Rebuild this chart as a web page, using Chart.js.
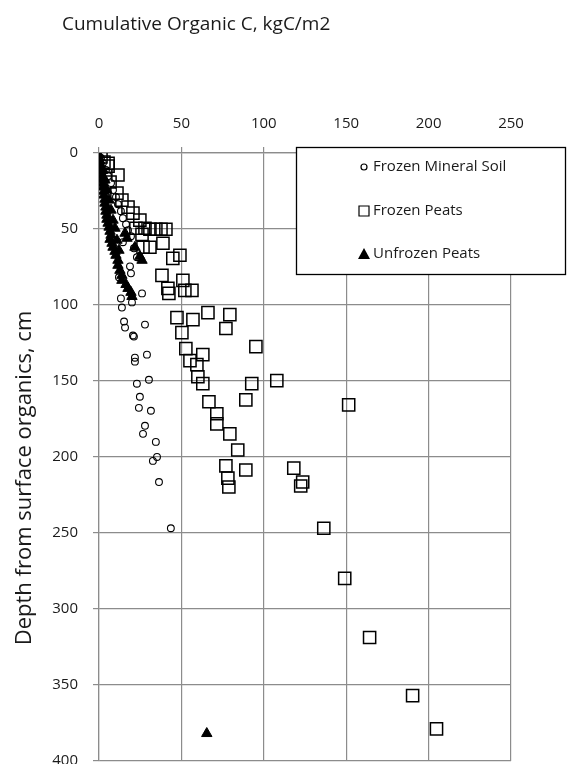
<!DOCTYPE html>
<html>
<head>
<meta charset="utf-8">
<script src="https://cdn.jsdelivr.net/npm/chart.js@4.4.0/dist/chart.umd.min.js"></script>
<style>
html, body { margin: 0; padding: 0; background: #fff; overflow: hidden; }
/* a bit taller than the window so the 400 label is cut at the bottom edge, as in the picture */
#wrap { width: 569px; height: 771px; }
</style>
</head>
<body>
<div id="wrap"><canvas id="myChart"></canvas></div>
<script>
// values: cumulative organic C (kgC/m2) vs depth (cm)
const mineralC = [1.2, 2.4, 4.2, 5.5, 7.3, 8.5, 10.3, 11.5, 13.3, 14.5, 16.4, 17.6, 19.4, 14.5, 21.2, 23.0,
    18.8, 19.4, 12.1, 26.1, 13.3, 20.0, 13.9, 15.2, 15.8, 27.9, 20.6, 21.2, 29.1, 21.8, 21.8,
    30.3, 23.0, 24.8, 24.2, 31.5, 27.9, 26.7, 34.5, 35.2, 32.7, 36.4, 43.6];
const mineralDepth = [3.3, 6.6, 11.2, 15.2, 19.8, 24.4, 29.0, 33.7, 38.3, 42.9, 46.9, 50.8, 54.8, 58.7, 62.7, 68.6,
    74.6, 79.2, 81.8, 92.4, 95.7, 98.3, 101.7, 110.9, 114.9, 112.9, 120.1, 120.8, 132.7, 134.7, 137.3,
    149.2, 151.8, 160.4, 167.7, 169.6, 179.5, 184.8, 190.1, 200.0, 202.6, 216.5, 246.9];

const frozenPeatC = [1.2, 3.0, 5.5, 5.5, 11.5, 6.7, 10.9, 13.9, 17.6, 20.6, 24.8, 22.4, 27.9, 30.9, 34.5, 37.6, 40.6,
    26.1, 38.8, 30.9, 26.7, 49.1, 44.8, 38.2, 41.8, 42.4, 50.9, 52.1, 56.4, 47.3, 57.0, 66.1, 79.4, 77.0,
    50.3, 95.2, 52.7, 63.0, 55.2, 59.4, 60.0, 63.0, 107.9, 92.7, 66.7, 89.1, 71.5, 71.5, 79.4, 84.2,
    77.0, 89.1, 78.2, 78.8, 118.2, 123.6, 122.4, 151.5, 136.4, 149.1, 164.2, 190.3, 204.8];
const frozenPeatDepth = [2.6, 6.0, 8.6, 6.8, 14.5, 19.1, 26.4, 31.0, 35.6, 39.6, 44.2, 49.5, 49.5, 50.2, 50.2, 50.2, 50.2,
    53.5, 59.4, 62.0, 62.0, 67.3, 69.3, 80.5, 89.1, 92.4, 83.8, 90.4, 90.4, 108.3, 109.6, 105.0, 106.3, 115.5,
    118.2, 127.4, 128.7, 132.7, 136.6, 139.3, 147.2, 151.8, 149.8, 151.8, 163.7, 162.4, 171.6, 178.2, 184.8, 195.4,
    205.9, 208.6, 213.9, 219.8, 207.3, 216.5, 219.1, 165.7, 246.9, 279.9, 318.8, 357.1, 378.9];

const unfrozenPeatC = [0, 0, 0.6, 0.6, 1.2, 1.2, 1.8, 1.8, 2.4, 2.4, 3.0, 3.0, 3.6, 3.6, 4.2, 4.2, 4.8, 4.8, 5.5,
    6.1, 6.7, 7.3, 6.7, 7.9, 8.5, 9.7, 10.3, 11.5, 11.5, 12.7, 13.9, 13.9, 16.4, 17.6, 19.4, 20.0,
    2.4, 3.6, 4.8, 6.1, 7.3, 8.5, 9.7, 10.9, 12.1, 15.8, 17.0, 21.8, 24.8, 26.1, 65.4];
const unfrozenPeatDepth = [1.3, 3.3, 5.3, 7.3, 9.2, 11.9, 14.5, 17.2, 19.8, 22.4, 25.1, 27.7, 30.4, 33.0, 35.6, 38.3, 40.9, 43.6, 46.2,
    48.8, 51.5, 54.1, 56.8, 59.4, 62.0, 64.7, 67.3, 70.6, 73.9, 77.2, 80.5, 83.8, 86.5, 89.1, 91.7, 94.4,
    11.2, 17.8, 24.4, 31.0, 37.6, 44.2, 49.5, 57.4, 64.0, 52.8, 56.1, 62.0, 68.0, 70.6, 382];

const xTicks = [0, 50, 100, 150, 200, 250];
const yTicks = [0, 50, 100, 150, 200, 250, 300, 350, 400];

function toPoints(xs, ys) {
    return xs.map((v, i) => ({x: v, y: ys[i]}));
}

const FONT = 'Open Sans';
const TEXT = '#1a1a1a';
const GRID = '#8c8c8c';

// title, y axis title and the boxed legend
const extraText = {
    id: 'extraText',
    afterDraw(chart) {
        const ctx = chart.ctx;
        ctx.save();
        ctx.fillStyle = TEXT;
        ctx.font = '19px "' + FONT + '"';
        ctx.textBaseline = 'middle';
        ctx.textAlign = 'left';
        ctx.fillText('Cumulative Organic C, kgC/m2', 62, 25);

        ctx.save();
        ctx.translate(25, 478);
        ctx.rotate(-Math.PI / 2);
        ctx.textAlign = 'center';
        ctx.font = '22px "' + FONT + '"';
        ctx.fillText('Depth from surface organics, cm', 0, 0);
        ctx.restore();

        // legend box
        ctx.fillStyle = '#fff';
        ctx.fillRect(296, 147, 270, 128);
        ctx.strokeStyle = '#000';
        ctx.lineWidth = 1.3;
        ctx.strokeRect(296.5, 147.5, 269, 127);

        ctx.font = '15px "' + FONT + '"';
        const rows = [167, 211, 254];
        chart.data.datasets.forEach((ds, i) => {
            const y = rows[i];
            const x = 364;
            ctx.strokeStyle = '#000';
            ctx.fillStyle = '#000';
            ctx.lineWidth = 1.2;
            ctx.beginPath();
            if (ds.pointStyle === 'circle') {
                ctx.arc(x, y, 3, 0, Math.PI * 2);
                ctx.stroke();
            } else if (ds.pointStyle === 'rect') {
                ctx.rect(x - 5, y - 5, 10, 10);
                ctx.stroke();
            } else {
                ctx.moveTo(x, y - 6);
                ctx.lineTo(x + 6, y + 5);
                ctx.lineTo(x - 6, y + 5);
                ctx.closePath();
                ctx.fill();
            }
            ctx.fillStyle = TEXT;
            ctx.fillText(ds.label, 373, y);
        });
        ctx.restore();
    }
};

const config = {
    type: 'scatter',
    data: {
        datasets: [
            {
                label: 'Frozen Mineral Soil',
                data: toPoints(mineralC, mineralDepth),
                pointStyle: 'circle',
                pointRadius: 3.4,
                borderColor: '#000',
                backgroundColor: 'rgba(0,0,0,0)',
                borderWidth: 1.1,
                order: 2
            },
            {
                label: 'Frozen Peats',
                data: toPoints(frozenPeatC, frozenPeatDepth),
                pointStyle: 'rect',
                pointRadius: 8.6,
                borderColor: '#000',
                backgroundColor: 'rgba(0,0,0,0)',
                borderWidth: 1.5,
                order: 3
            },
            {
                label: 'Unfrozen Peats',
                data: toPoints(unfrozenPeatC, unfrozenPeatDepth),
                pointStyle: 'triangle',
                pointRadius: 6,
                borderColor: '#000',
                backgroundColor: '#000',
                borderWidth: 1,
                order: 1
            }
        ]
    },
    options: {
        responsive: true,
        maintainAspectRatio: false,
        animation: false,
        layout: { padding: { top: 0, right: 58, bottom: 0, left: 0 } },
        plugins: {
            legend: { display: false },
            title: { display: false },
            tooltip: { enabled: false }
        },
        scales: {
            x: {
                type: 'linear',
                position: 'top',
                min: 0,
                max: 250,
                afterFit(scale) { scale.height = 153; },
                afterBuildTicks(scale) { scale.ticks = xTicks.map(v => ({value: v})); },
                grid: { color: GRID, lineWidth: 1.2, tickLength: 6, drawTicks: true },
                border: { color: GRID, width: 1.2 },
                ticks: { color: TEXT, font: { family: FONT, size: 15 }, padding: 14 }
            },
            y: {
                type: 'linear',
                reverse: true,
                min: 0,
                max: 400,
                afterFit(scale) {
                    scale.width = 99;
                    scale.paddingTop = 0;
                    scale.paddingBottom = 0;
                },
                afterBuildTicks(scale) { scale.ticks = yTicks.map(v => ({value: v})); },
                grid: { color: GRID, lineWidth: 1.2, tickLength: 6, drawTicks: true },
                border: { color: GRID, width: 1.2 },
                ticks: { color: TEXT, font: { family: FONT, size: 15 }, padding: 15 }
            }
        }
    },
    plugins: [extraText]
};

const myChart = new Chart(document.getElementById('myChart'), config);
</script>
</body>
</html>
